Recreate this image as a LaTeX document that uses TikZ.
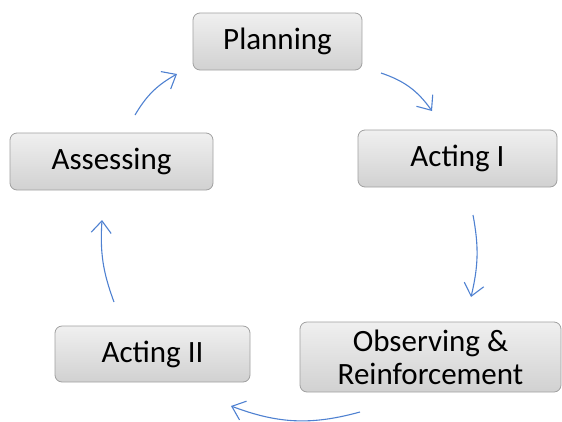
\documentclass[tikz,border=0pt]{standalone}
\usepackage{fontspec}
\setmainfont{Carlito}
\usetikzlibrary{arrows.meta}
\definecolor{arrowblue}{RGB}{79,129,209}
\definecolor{boxline}{RGB}{160,160,160}
\begin{document}
\begin{tikzpicture}[x=1pt,y=-1pt,
    stage/.style={draw=boxline,thick,rounded corners=7pt,top color=gray!12,bottom color=gray!36,
      font=\fontsize{31}{33}\selectfont,text=black,inner sep=0pt,align=center},
    loop/.style={draw=arrowblue,line width=1.1pt,-{Straight Barb[length=12pt,width=20pt,line width=1.1pt]}}]
            \useasboundingbox (0,0) rectangle (562,421);
            \node[stage,minimum width=169pt,minimum height=57pt] at (277.5,41.5) (plan) {Planning};
            \node[stage,minimum width=199pt,minimum height=57pt] at (457.5,158.5) (act1) {Acting I};
            \node[stage,minimum width=261pt,minimum height=70pt] at (430.5,357) (obs) {Observing \&\\Reinforcement};
            \node[stage,minimum width=195pt,minimum height=56pt] at (152.5,354) (act2) {Acting II};
            \node[stage,minimum width=203pt,minimum height=57pt] at (111.5,161.5) (asse) {Assessing};

            \coordinate (p1) at (381,73);  \coordinate (q1) at (432,111);
            \coordinate (p2) at (473,215); \coordinate (q2) at (471,297);
            \coordinate (p3) at (360,412); \coordinate (q3) at (231,406);
            \coordinate (p4) at (114,302); \coordinate (q4) at (102,220);
            \coordinate (p5) at (135,115); \coordinate (q5) at (177,74);

            \draw[loop] (p1) to[bend left=18] (q1);
            \draw[loop] (p2) to[bend left=12] (q2);
            \draw[loop] (p3) to[bend left=18] (q3);
            \draw[loop] (p4) to[bend left=12] (q4);
            \draw[loop] (p5) to[bend left=15] (q5);
        \end{tikzpicture}
\end{document}
